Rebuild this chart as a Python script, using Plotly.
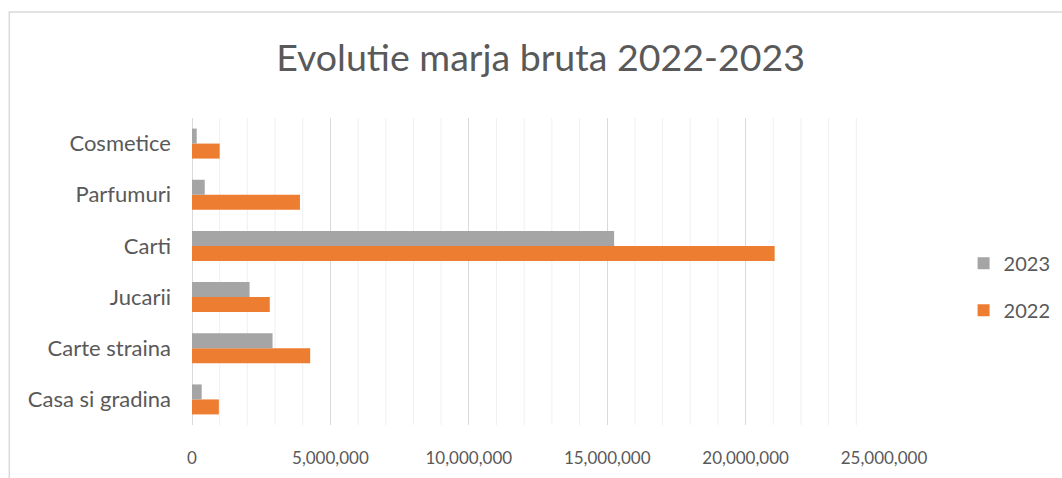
import plotly.graph_objects as go

# categories listed bottom -> top
categories = ["Casa si gradina", "Carte straina", "Jucarii", "Carti", "Parfumuri", "Cosmetice"]
values_2022 = [970000, 4270000, 2810000, 21050000, 3900000, 1000000]
values_2023 = [350000, 2910000, 2080000, 15250000, 460000, 170000]
tick_vals = [0, 5000000, 10000000, 15000000, 20000000, 25000000]
tick_text = ["0", "5,000,000", "10,000,000", "15,000,000", "20,000,000", "25,000,000"]

FONT = "Lato, sans-serif"
TEXT_COL = "#595959"

fig = go.Figure()
fig.add_trace(go.Bar(y=categories, x=values_2022, name="2022", orientation="h",
                     legendgroup="a", legendrank=2,
                     marker=dict(color="#ED7D31", line=dict(width=0))))
fig.add_trace(go.Bar(y=categories, x=values_2023, name="2023", orientation="h",
                     legendgroup="b", legendrank=1,
                     marker=dict(color="#A5A5A5", line=dict(width=0))))

# minor gridlines every 1,000,000
for v in range(1000000, 25000001, 1000000):
    if v % 5000000 == 0:
        continue
    fig.add_shape(type="line", xref="x", yref="paper", x0=v, x1=v, y0=0, y1=1,
                  line=dict(color="#F0F0F0", width=1), layer="below")

# chart border
fig.add_shape(type="rect", xref="paper", yref="paper", x0=-0.264, x1=1.5, y0=-0.5, y1=1.345,
              line=dict(color="#D9D9D9", width=1.5), layer="below")

fig.update_layout(
    width=1062, height=478,
    margin=dict(l=192, r=178, t=118, b=53, autoexpand=False),
    paper_bgcolor="white", plot_bgcolor="white",
    barmode="group", bargap=0.414, bargroupgap=0,
    title=dict(text="Evolutie marja bruta 2022-2023", x=0.509, xanchor="center",
               y=0.879, yanchor="middle",
               font=dict(family=FONT, size=37.5, color=TEXT_COL)),
    font=dict(family=FONT, color=TEXT_COL),
    legend=dict(traceorder="grouped", x=1.115, y=0.45, xanchor="left", yanchor="middle",
                font=dict(size=20, color=TEXT_COL), itemwidth=30, tracegroupgap=18,
                bgcolor="rgba(0,0,0,0)"),
    showlegend=True,
)
fig.update_xaxes(range=[0, 25000000], tickvals=tick_vals, ticktext=tick_text,
                 automargin=False,
                 showgrid=True, gridcolor="#D9D9D9", gridwidth=1,
                 zeroline=True, zerolinecolor="#D9D9D9", zerolinewidth=1,
                 showline=False, ticks="", ticklabelstandoff=21,
                 tickfont=dict(size=17, color=TEXT_COL))
fig.update_yaxes(automargin=False, showgrid=False, showline=False, ticks="",
                 ticklabelstandoff=20,
                 tickfont=dict(size=22, color=TEXT_COL))

fig.write_html("out.html", config={"displayModeBar": False},
               post_script="document.body.style.margin='0';")
